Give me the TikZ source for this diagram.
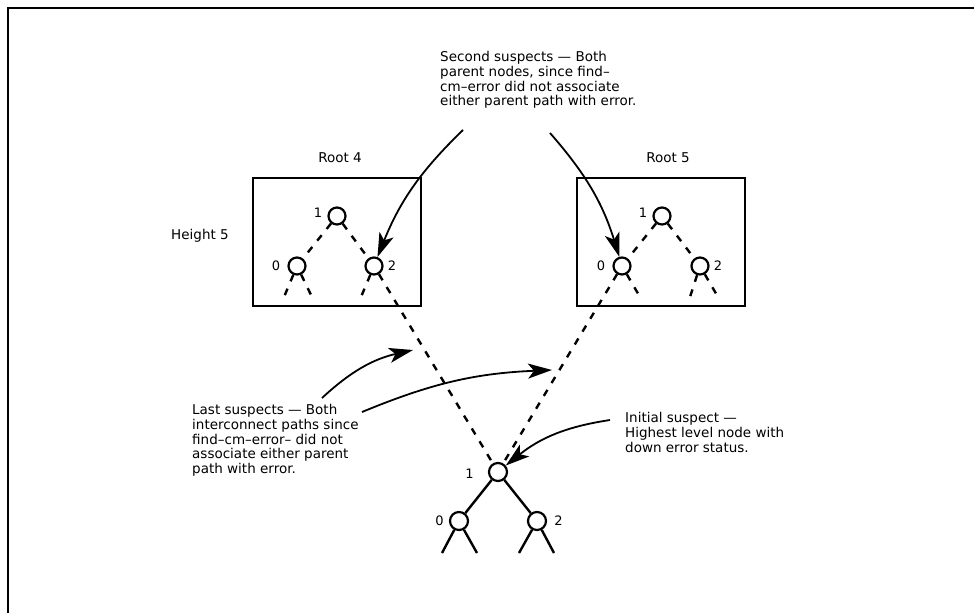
\documentclass[tikz,border=0pt]{standalone}
\usepackage{fontspec}
\setmainfont{DejaVu Sans}
\usetikzlibrary{positioning, arrows.meta, calc}

\begin{document}
\begin{tikzpicture}[x=1pt, y=-1pt,
    tnode/.style={circle, draw, line width=2.2pt, minimum size=17pt, inner sep=0pt},
    bignode/.style={tnode, minimum size=18pt},
    box/.style={draw, line width=2.8pt, minimum width=168pt, minimum height=128pt},
    note/.style={align=left, anchor=north west, inner sep=0pt, font=\fontsize{13.5}{14.8}\selectfont},
    label/.style={font=\fontsize{13.5}{15}\selectfont},
    num/.style={font=\fontsize{13}{14}\selectfont, inner sep=1pt},
    dashedge/.style={draw, line width=2.4pt, dash pattern=on 7pt off 8pt},
    edge/.style={draw, line width=2.4pt},
    pointer/.style={draw, line width=1.8pt, -{Stealth[length=24pt, width=15pt, inset=6pt]}}
]
    \useasboundingbox (0,0) rectangle (974,613);

    % Frame
    \draw[line width=2pt] (8,613) -- (8,8) -- (974,8);

    % Boxes
    \node[box] (root4) at (337,242) {};
    \node[box] (root5) at (661,242) {};
    \node[label] (root4label) at (340,158) {Root 4};
    \node[label] (root5label) at (668,158) {Root 5};
    \node[label] (height) at (200,236) {Height 5};

    % Tree nodes
    \node[tnode] (l1) at (337,216) {};
    \node[tnode] (l0) at (297,266) {};
    \node[tnode] (l2) at (374,266) {};
    \node[tnode] (r1) at (662,216) {};
    \node[tnode] (r0) at (622,266) {};
    \node[tnode] (r2) at (700,266) {};
    \node[bignode] (b1) at (498,472) {};
    \node[bignode] (b0) at (459,521) {};
    \node[bignode] (b2) at (537,521) {};

    % Numbers
    \node[num, left=4pt of l1, yshift=3pt] {1};
    \node[num, left=6pt of l0] {0};
    \node[num, right=3pt of l2] {2};
    \node[num, left=4pt of r1, yshift=3pt] {1};
    \node[num, left=6pt of r0] {0};
    \node[num, right=3pt of r2] {2};
    \node[num, left=13pt of b1, yshift=-2pt] {1};
    \node[num, left=4pt of b0] {0};
    \node[num, right=6pt of b2] {2};

    % Leg ends
    \coordinate (l0a) at (284,297);
    \coordinate (l0b) at (312,297);
    \coordinate (l2a) at (361,297);
    \coordinate (r0b) at (640,297);
    \coordinate (r2a) at (690,297);
    \coordinate (r2b) at (718,297);
    \coordinate (b0a) at (442,553);
    \coordinate (b0b) at (477,553);
    \coordinate (b2a) at (519,553);
    \coordinate (b2b) at (554,553);

    % Edges
    \draw[dashedge] (l1) -- (l0);
    \draw[dashedge] (l1) -- (l2);
    \draw[dashedge] (l0) -- (l0a);
    \draw[dashedge] (l0) -- (l0b);
    \draw[dashedge] (l2) -- (l2a);
    \draw[dashedge] (r1) -- (r0);
    \draw[dashedge] (r1) -- (r2);
    \draw[dashedge] (r0) -- (r0b);
    \draw[dashedge] (r2) -- (r2a);
    \draw[dashedge] (r2) -- (r2b);
    \draw[dashedge] (l2) -- (b1);
    \draw[dashedge] (r0) -- (b1);
    \draw[edge] (b1) -- (b0);
    \draw[edge] (b1) -- (b2);
    \draw[edge] (b0) -- (b0a);
    \draw[edge] (b0) -- (b0b);
    \draw[edge] (b2) -- (b2a);
    \draw[edge] (b2) -- (b2b);

    % Notes
    \node[note] (second) at (440,51) {Second suspects --- Both\\parent nodes, since find--\\cm--error did not associate\\either parent path with error.};
    \node[note] (last) at (192,404) {Last suspects --- Both\\interconnect paths since\\find--cm--error-- did not\\associate either parent\\path with error.};
    \node[note] (initial) at (625,412) {Initial suspect ---\\Highest level node with\\down error status.};

    % Pointers
    \coordinate (s1) at (463,130);
    \coordinate (s2) at (550,133);
    \coordinate (p1) at (322,398);
    \coordinate (p2) at (362,412);
    \coordinate (p3) at (413,350);
    \coordinate (p4) at (552,370);
    \coordinate (i1) at (610,420);
    \draw[pointer] (s1) to[bend right=12] (l2);
    \draw[pointer] (s2) to[bend left=12] (r0);
    \draw[pointer] (p1) to[bend left=15] (p3);
    \draw[pointer] (p2) to[bend left=10] (p4);
    \draw[pointer] (i1) to[bend right=15] (b1);

\end{tikzpicture}
\end{document}
